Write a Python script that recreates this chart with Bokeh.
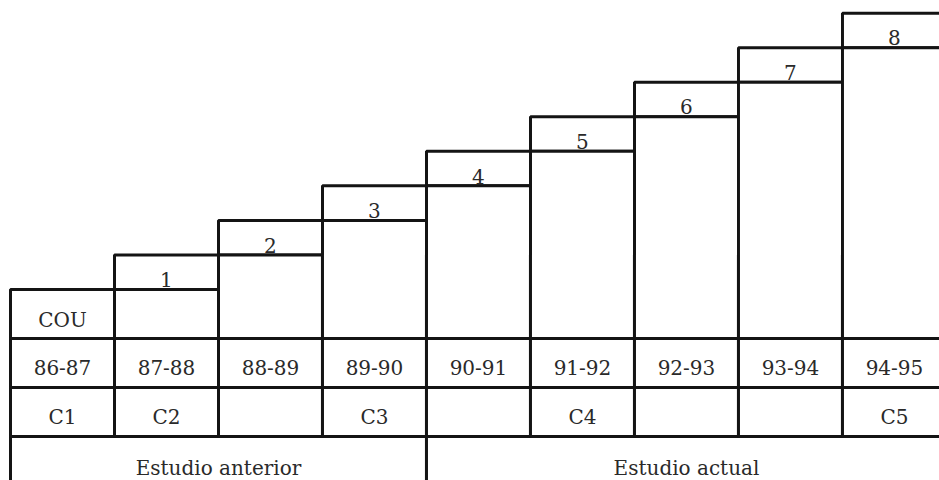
from bokeh.plotting import figure
from bokeh.models import ColumnDataSource, Range1d
from bokeh.core.properties import value
from bokeh.embed import file_html
from bokeh.resources import INLINE

# ---- data ----
years = ["86-87", "87-88", "88-89", "89-90", "90-91", "91-92", "92-93", "93-94", "94-95"]
cohorts = ["C1", "C2", "", "C3", "", "C4", "", "", "C5"]
first_course = "COU"
steps = [1, 2, 3, 4, 5, 6, 7, 8]          # step number for columns 2..9
studies = ["Estudio anterior", "Estudio actual"]
study_cols = [4, 5]                        # how many year-columns each study spans

# ---- layout constants ----
STEP = 0.705       # height of one step (in row units)
LW = 3
INK = "#141414"
FONT = value("DejaVu Serif")
FS = value("20px")
MID = 0.4          # text centre inside a row

n = len(years)
cols = list(range(n))

p = figure(width=939, height=480, output_backend="svg", toolbar_location=None,
           x_range=Range1d(-0.096, 8.933), y_range=Range1d(-0.898, 8.898),
           min_border=0, outline_line_color=None,
           background_fill_color="white", border_fill_color="white")
p.axis.visible = False
p.grid.visible = False

box = dict(fill_color="white", line_color=INK, line_width=LW)
txt = dict(text_font=FONT, text_font_size=FS, text_color="#2a2a2a",
           text_align="center", text_baseline="middle")

# study row (bottom)
lefts, rights, mids = [], [], []
start = 0
for c in study_cols:
    lefts.append(start); rights.append(start + c); mids.append(start + c / 2)
    start += c
p.quad(left=lefts, right=rights, bottom=[-1.5] * len(studies), top=[0] * len(studies), **box)
p.text(x=mids, y=[-0.64] * len(studies), text=studies, **txt)

# cohort row
p.quad(left=cols, right=[c + 1 for c in cols], bottom=[0] * n, top=[1] * n, **box)
p.text(x=[c + 0.5 for c in cols], y=[MID] * n, text=cohorts, **txt)

# year row
p.quad(left=cols, right=[c + 1 for c in cols], bottom=[1] * n, top=[2] * n, **box)
p.text(x=[c + 0.5 for c in cols], y=[1 + MID] * n, text=years, **txt)

# COU box (first column)
p.quad(left=[0], right=[1], bottom=[2], top=[3], **box)
p.text(x=[0.5], y=[2 + MID - 0.03], text=[first_course], **txt)

# staircase columns
sc = cols[1:]
main_top = [3 + STEP * (s - 1) for s in steps]
lab_top = [3 + STEP * s for s in steps]
src = ColumnDataSource(dict(left=sc, right=[c + 1 for c in sc], mt=main_top, lt=lab_top,
                            bot=[2] * len(sc), x=[c + 0.5 for c in sc],
                            ty=[m + 0.2 for m in main_top], lab=[str(s) for s in steps]))
p.quad(left="left", right="right", bottom="mt", top="lt", source=src, **box)
p.quad(left="left", right="right", bottom="bot", top="mt", source=src, **box)
p.text(x="x", y="ty", text="lab", source=src, **txt)

open("out.html", "w").write(file_html(p, INLINE))
